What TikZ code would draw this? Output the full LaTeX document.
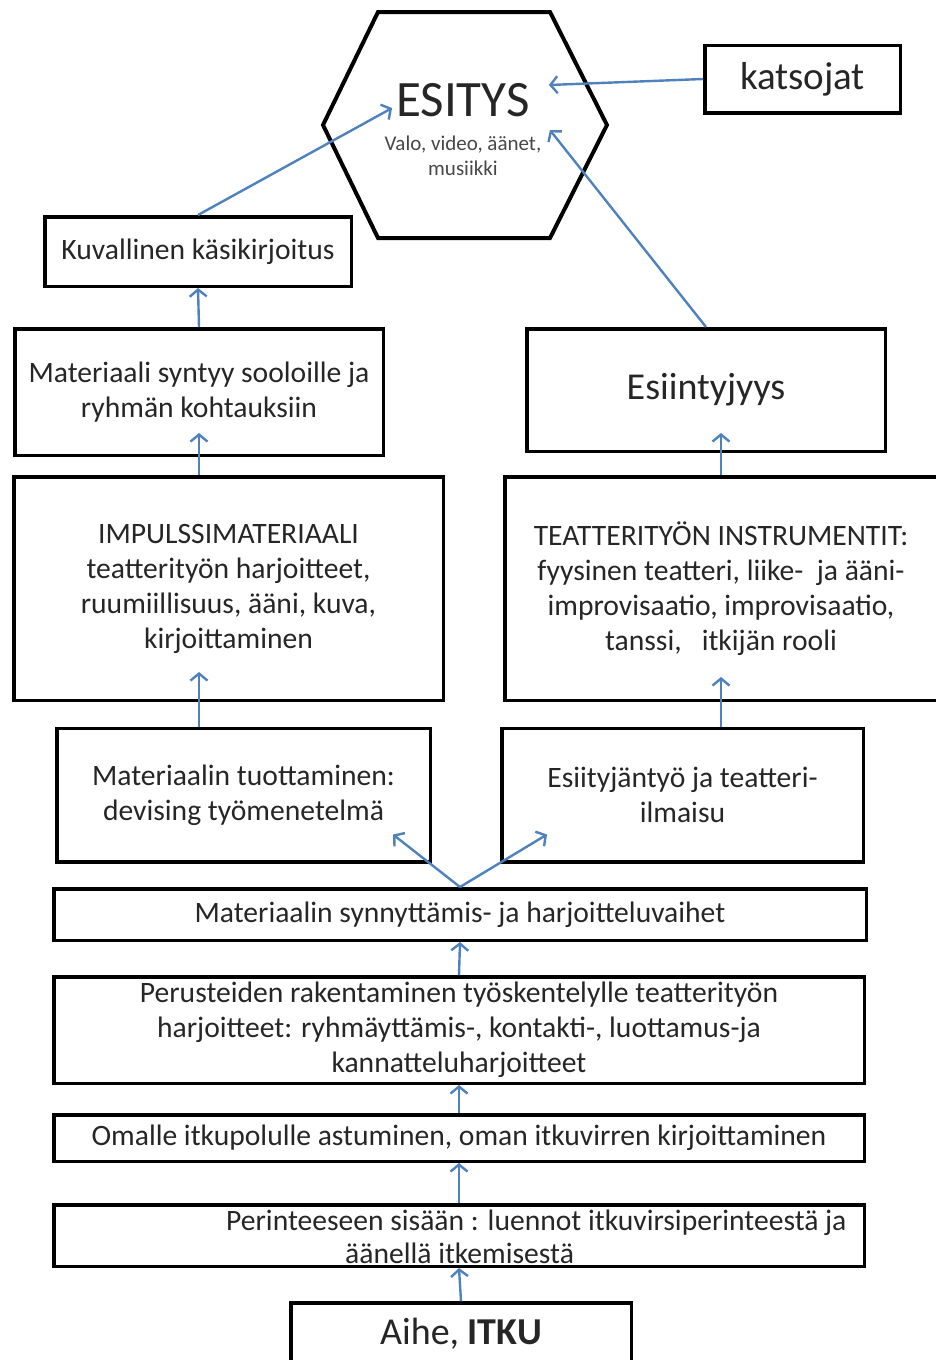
\documentclass[tikz,border=0pt]{standalone}
\usepackage{fontspec}
\setmainfont{Carlito}
\usetikzlibrary{arrows.meta}
\definecolor{arrowblue}{RGB}{79,129,189}
\definecolor{txt}{RGB}{38,38,38}

\begin{document}
\begin{tikzpicture}[x=1pt, y=-1pt,
	box/.style={rectangle,draw,line width=3.5pt,inner sep=0pt,align=center,text=txt,font=\fontsize{29.6}{35}\selectfont},
	arr/.style={draw=arrowblue,line width=2.4pt,-{Straight Barb[length=7pt,width=17pt]}}]
	\useasboundingbox (0,0) rectangle (936,1360);

	% top: performance
	\draw[line width=4pt,line join=miter] (378,12) -- (550,12) -- (607,125) -- (550,238) -- (378,238) -- (323,125) -- cycle;
	\node[text=txt,font=\fontsize{51}{55}\selectfont,inner sep=0pt] (esitys) at (463,100) {ESITYS};
	\node[text=txt!85,font=\fontsize{21}{25}\selectfont,align=center,inner sep=0pt] (esitysinfo) at (463,156) {Valo, video, äänet,\\musiikki};
	\node[box,minimum width=195.5,minimum height=67.5,font=\fontsize{39}{44}\selectfont] (katsojat) at (802.5,79) {katsojat};

	% left column
	\node[box,minimum width=306.5,minimum height=69.5] (kuvallinen) at (198,251.5) {Kuvallinen käsikirjoitus};
	\node[box,minimum width=368.5,minimum height=126.5] (syntyy) at (199,392) {Materiaali syntyy sooloille ja\\ryhmän kohtauksiin};
	\node[box,minimum width=429.5,minimum height=223.5] (impulssi) at (228.5,588.5) {IMPULSSIMATERIAALI\\teatterityön harjoitteet,\\ruumiillisuus, ääni, kuva,\\kirjoittaminen};
	\node[box,minimum width=373.5,minimum height=133.5] (tuottaminen) at (243.5,795) {Materiaalin tuottaminen:\\devising työmenetelmä};

	% right column
	\node[box,minimum width=358.5,minimum height=122.5,font=\fontsize{38}{42}\selectfont] (esiintyjyys) at (706,390) {Esiintyjyys};
	\node[box,minimum width=432.5,minimum height=223.5] (instrumentit) at (721,588.5) {TEATTERITYÖN INSTRUMENTIT:\\fyysinen teatteri, liike-\ \ ja ääni-\\improvisaatio, improvisaatio,\\tanssi,\ \ \ itkijän rooli};
	\node[box,minimum width=361.5,minimum height=133.5] (esiintyjantyo) at (682.5,795) {Esiityjäntyö ja teatteri-\\ilmaisu};

	% common steps
	\node[box,minimum width=812.5,minimum height=51.5] (synnyttamis) at (460,914.5) {Materiaalin synnyttämis- ja harjoitteluvaihet};
	\node[box,minimum width=810.5,minimum height=106.5] (perusteet) at (459,1030) {Perusteiden rakentaminen työskentelylle teatterityön\\harjoitteet: ryhmäyttämis-, kontakti-, luottamus-ja\\kannatteluharjoitteet};
	\node[box,minimum width=810.5,minimum height=46.5] (omalle) at (459,1138) {Omalle itkupolulle astuminen, oman itkuvirren kirjoittaminen};
	\node[box,minimum width=810.5,minimum height=61.5] (perinne) at (459,1235.5) {};
	\node[anchor=west,align=left,inner sep=0pt,text=txt,font=\fontsize{29.6}{33}\selectfont] (perinneteksti) at (226,1237) {Perinteeseen sisään : luennot itkuvirsiperinteestä ja\\\hspace*{119pt}äänellä itkemisestä};
	\node[box,minimum width=340.5,minimum height=62,font=\fontsize{38}{42}\selectfont] (aihe) at (461,1334) {Aihe, \textbf{ITKU}};

	% arrows
	\draw[arr] (aihe.north) -- (perinne.south);
	\draw[arr] (perinne.north) -- (omalle.south);
	\draw[arr] (omalle.north) -- (perusteet.south);
	\draw[arr] (perusteet.north) -- (synnyttamis.south);
	\draw[arr] (synnyttamis.north) -- ([shift={(-39,-29)}]tuottaminen.south east);
	\draw[arr] (synnyttamis.north) -- ([shift={(47,-29)}]esiintyjantyo.south west);
	\draw[arr] (syntyy |- tuottaminen.north) -- ([yshift=30pt]syntyy |- impulssi.south);
	\draw[arr] (instrumentit |- esiintyjantyo.north) -- ([yshift=25pt]instrumentit.south);
	\draw[arr] (syntyy |- impulssi.north) -- ([yshift=24pt]syntyy.south);
	\draw[arr] (instrumentit.north) -- ([yshift=20pt]instrumentit |- esiintyjyys.south);
	\draw[arr] (syntyy.north) -- (kuvallinen.south);
	\draw[arr] (kuvallinen.north) -- ([shift={(-4,8)}]esitys.west);
	\draw[arr] (esiintyjyys.north) -- ([shift={(20,30)}]esitys.east);
	\draw[arr] (katsojat.west) -- ([shift={(19,-15)}]esitys.east);
\end{tikzpicture}
\end{document}
